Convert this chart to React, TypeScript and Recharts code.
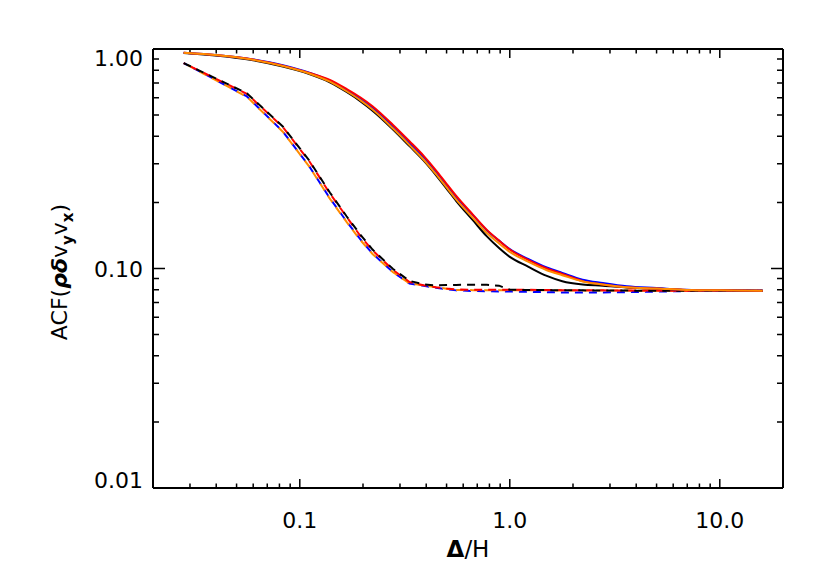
import React from 'react';
import { LineChart, Line, XAxis, YAxis, ReferenceLine } from 'recharts';

// lag Δ/H (grid steps of H/36)
const lags = [
  0.028, 0.056, 0.083, 0.111, 0.139, 0.167, 0.194, 0.222, 0.278, 0.333, 0.389, 0.444, 0.5, 0.556,
  0.667, 0.778, 0.889, 1.0, 1.222, 1.5, 1.778, 2.222, 2.778, 3.611, 5.0, 6.944, 10.0, 16.0,
];

// solid curves
const solidBlack = [
  0.96, 0.898, 0.832, 0.769, 0.705, 0.637, 0.579, 0.524, 0.43, 0.361, 0.31, 0.267, 0.231, 0.203,
  0.166, 0.14, 0.124, 0.113, 0.102, 0.0925, 0.0875, 0.0845, 0.0835, 0.0819, 0.081, 0.0799, 0.0795, 0.0792,
];
const solidBlue = [
  0.962, 0.906, 0.843, 0.78, 0.717, 0.65, 0.593, 0.54, 0.445, 0.374, 0.321, 0.277, 0.24, 0.211,
  0.175, 0.149, 0.134, 0.1225, 0.1106, 0.1011, 0.0955, 0.089, 0.0859, 0.083, 0.0815, 0.08, 0.0795, 0.0792,
];
const solidRed = [
  0.962, 0.905, 0.84, 0.778, 0.724, 0.658, 0.603, 0.549, 0.451, 0.38, 0.326, 0.281, 0.243, 0.214,
  0.176, 0.15, 0.134, 0.122, 0.1095, 0.1, 0.0945, 0.0876, 0.0846, 0.0821, 0.081, 0.0799, 0.0795, 0.0792,
];
const solidOrange = [
  0.962, 0.903, 0.837, 0.773, 0.71, 0.642, 0.585, 0.53, 0.434, 0.365, 0.313, 0.27, 0.234, 0.206,
  0.17, 0.145, 0.13, 0.119, 0.1074, 0.0982, 0.0932, 0.0873, 0.0846, 0.0821, 0.0811, 0.0799, 0.0795, 0.0792,
];

// dashed curves
const dashBlack = [
  0.863, 0.628, 0.444, 0.31, 0.222, 0.173, 0.143, 0.122, 0.0995, 0.0878, 0.0846, 0.0838, 0.084, 0.0842,
  0.0843, 0.0843, 0.0835, 0.08, 0.0798, 0.0797, 0.0796, 0.0795, 0.0794, 0.0793, 0.0792, 0.0792, 0.0792, 0.0792,
];
const dashBlue = [
  0.863, 0.608, 0.421, 0.292, 0.209, 0.164, 0.136, 0.117, 0.0962, 0.0853, 0.0834, 0.0818, 0.0805, 0.0795,
  0.079, 0.0788, 0.0786, 0.0785, 0.0783, 0.078, 0.0778, 0.0777, 0.0778, 0.078, 0.0785, 0.0789, 0.0791, 0.0792,
];
const dashRed = [
  0.863, 0.625, 0.441, 0.308, 0.22, 0.172, 0.141, 0.121, 0.0985, 0.0868, 0.0838, 0.0822, 0.081, 0.0802,
  0.08, 0.08, 0.08, 0.08, 0.08, 0.0798, 0.0797, 0.0796, 0.0795, 0.0794, 0.0793, 0.0792, 0.0792, 0.0792,
];
const dashOrange = [
  0.863, 0.606, 0.42, 0.291, 0.208, 0.163, 0.135, 0.1165, 0.0962, 0.0855, 0.0838, 0.0822, 0.0809, 0.0799,
  0.0797, 0.0796, 0.0796, 0.0796, 0.0795, 0.0795, 0.0794, 0.0794, 0.0793, 0.0793, 0.0792, 0.0792, 0.0792, 0.0792,
];

const xMajorTicks = [0.1, 1, 10];
const xMinorTicks = [
  0.03, 0.04, 0.05, 0.06, 0.07, 0.08, 0.09, 0.2, 0.3, 0.4, 0.5, 0.6, 0.7, 0.8, 0.9, 2, 3, 4, 5,
  6, 7, 8, 9,
];
const xLabels: Record<string, string> = { '0.1': '0.1', '1': '1.0', '10': '10.0' };

const yMajorTicks = [0.01, 0.1, 1];
const yMinorTicks = [
  0.02, 0.03, 0.04, 0.05, 0.06, 0.07, 0.08, 0.09, 0.2, 0.3, 0.4, 0.5, 0.6, 0.7, 0.8, 0.9,
];
const yLabels: Record<string, string> = { '0.01': '0.01', '0.1': '0.10', '1': '1.00' };
const yLabelShift: Record<string, number> = { '0.01': -8, '0.1': 1, '1': 9 };

const X_DOMAIN: [number, number] = [0.02, 20];
const Y_DOMAIN: [number, number] = [0.01, 1];
const FONT = '"DejaVu Sans", sans-serif';

const data = lags.map((lag, i) => ({
  lag,
  solidBlack: solidBlack[i],
  solidBlue: solidBlue[i],
  solidRed: solidRed[i],
  solidOrange: solidOrange[i],
  dashBlack: dashBlack[i],
  dashBlue: dashBlue[i],
  dashRed: dashRed[i],
  dashOrange: dashOrange[i],
}));

const XLabel = (props: any) => (
  <text x={props.x} y={Number(props.y) + 40} textAnchor="middle" fontSize={22} fontFamily={FONT} fill="#000">
    {xLabels[String(props.payload.value)]}
  </text>
);

const YLabel = (props: any) => {
  const key = String(props.payload.value);
  return (
    <text
      x={Number(props.x) - 10}
      y={Number(props.y) + yLabelShift[key]}
      textAnchor="end"
      dominantBaseline="central"
      fontSize={22}
      fontFamily={FONT}
      fill="#000"
    >
      {yLabels[key]}
    </text>
  );
};

// inward tick marks drawn at both ends of a reference line
const vTick = (len: number) => (props: any) => {
  const x = Number(props.x1);
  const top = Math.min(Number(props.y1), Number(props.y2));
  const bottom = Math.max(Number(props.y1), Number(props.y2));
  return (
    <path
      d={`M${x},${bottom}L${x},${bottom - len}M${x},${top}L${x},${top + len}`}
      stroke="#000"
      strokeWidth={1.5}
      fill="none"
    />
  );
};

const hTick = (len: number) => (props: any) => {
  const y = Number(props.y1);
  const left = Math.min(Number(props.x1), Number(props.x2));
  const right = Math.max(Number(props.x1), Number(props.x2));
  return (
    <path
      d={`M${left},${y}L${left + len},${y}M${right},${y}L${right - len},${y}`}
      stroke="#000"
      strokeWidth={1.5}
      fill="none"
    />
  );
};

const boxLine = { stroke: '#000', strokeWidth: 2 };
const lineProps = { xAxisId: 'b', yAxisId: 'l', strokeWidth: 2, dot: false, isAnimationActive: false };

export default function App() {
  return (
    <div style={{ position: 'absolute', left: 0, top: 0, width: 830, height: 586, background: '#fff' }}>
      <LineChart width={830} height={586} data={data} margin={{ top: 49, right: 47, bottom: 0, left: 0 }}>
        <XAxis
          xAxisId="b"
          dataKey="lag"
          type="number"
          scale="log"
          domain={X_DOMAIN}
          allowDataOverflow
          ticks={xMajorTicks}
          interval={0}
          tickSize={0}
          tickMargin={0}
          height={98}
          axisLine={boxLine}
          tickLine={false}
          tick={XLabel}
        />
        <XAxis
          xAxisId="t"
          orientation="top"
          mirror
          type="number"
          scale="log"
          domain={X_DOMAIN}
          allowDataOverflow
          ticks={xMajorTicks}
          height={1}
          tick={false}
          tickLine={false}
          axisLine={boxLine}
        />
        <YAxis
          yAxisId="l"
          type="number"
          scale="log"
          domain={Y_DOMAIN}
          allowDataOverflow
          ticks={yMajorTicks}
          interval={0}
          tickSize={0}
          tickMargin={0}
          width={153}
          axisLine={boxLine}
          tickLine={false}
          tick={YLabel}
        />
        <YAxis
          yAxisId="r"
          orientation="right"
          mirror
          type="number"
          scale="log"
          domain={Y_DOMAIN}
          allowDataOverflow
          ticks={yMajorTicks}
          width={1}
          tick={false}
          tickLine={false}
          axisLine={boxLine}
        />
        {xMajorTicks.map((v) => (
          <ReferenceLine key={`xM${v}`} xAxisId="b" yAxisId="l" x={v} stroke="#000" shape={vTick(9)} />
        ))}
        {xMinorTicks.map((v) => (
          <ReferenceLine key={`xm${v}`} xAxisId="b" yAxisId="l" x={v} stroke="#000" shape={vTick(4.5)} />
        ))}
        {[0.1].map((v) => (
          <ReferenceLine key={`yM${v}`} xAxisId="b" yAxisId="l" y={v} stroke="#000" shape={hTick(12)} />
        ))}
        {yMinorTicks.map((v) => (
          <ReferenceLine key={`ym${v}`} xAxisId="b" yAxisId="l" y={v} stroke="#000" shape={hTick(6)} />
        ))}
        <Line {...lineProps} dataKey="dashBlue" stroke="#0000ff" strokeDasharray="8 6" strokeDashoffset={3} type="linear" />
        <Line {...lineProps} dataKey="dashOrange" stroke="#ff8c00" strokeDasharray="8 6" strokeDashoffset={10} type="linear" />
        <Line {...lineProps} dataKey="dashRed" stroke="#ff0000" strokeDasharray="8 6" strokeDashoffset={6} type="linear" />
        <Line {...lineProps} dataKey="dashBlack" stroke="#000000" strokeDasharray="8 6" type="linear" />
        <Line {...lineProps} dataKey="solidBlack" stroke="#000000" type="monotone" />
        <Line {...lineProps} dataKey="solidBlue" stroke="#0000ff" type="monotone" />
        <Line {...lineProps} dataKey="solidRed" stroke="#ff0000" type="monotone" />
        <Line {...lineProps} dataKey="solidOrange" stroke="#ff8c00" type="monotone" />
      </LineChart>
      <svg
        width={830}
        height={586}
        style={{ position: 'absolute', left: 0, top: 0, pointerEvents: 'none' }}
        fontFamily={FONT}
      >
        <text x={468} y={557} textAnchor="middle" fontSize={23} fill="#000">
          <tspan fontWeight="bold">Δ</tspan>/H
        </text>
        <text transform="translate(67,272) rotate(-90)" textAnchor="middle" fontSize={22} fill="#000">
          ACF(
          <tspan fontWeight="bold" fontStyle="italic">ρδ</tspan>
          v<tspan dy={6} fontSize={15} fontWeight="bold">y</tspan>
          <tspan dy={-6}>v</tspan>
          <tspan dy={6} fontSize={15} fontWeight="bold">x</tspan>
          <tspan dy={-6}>)</tspan>
        </text>
      </svg>
    </div>
  );
}
